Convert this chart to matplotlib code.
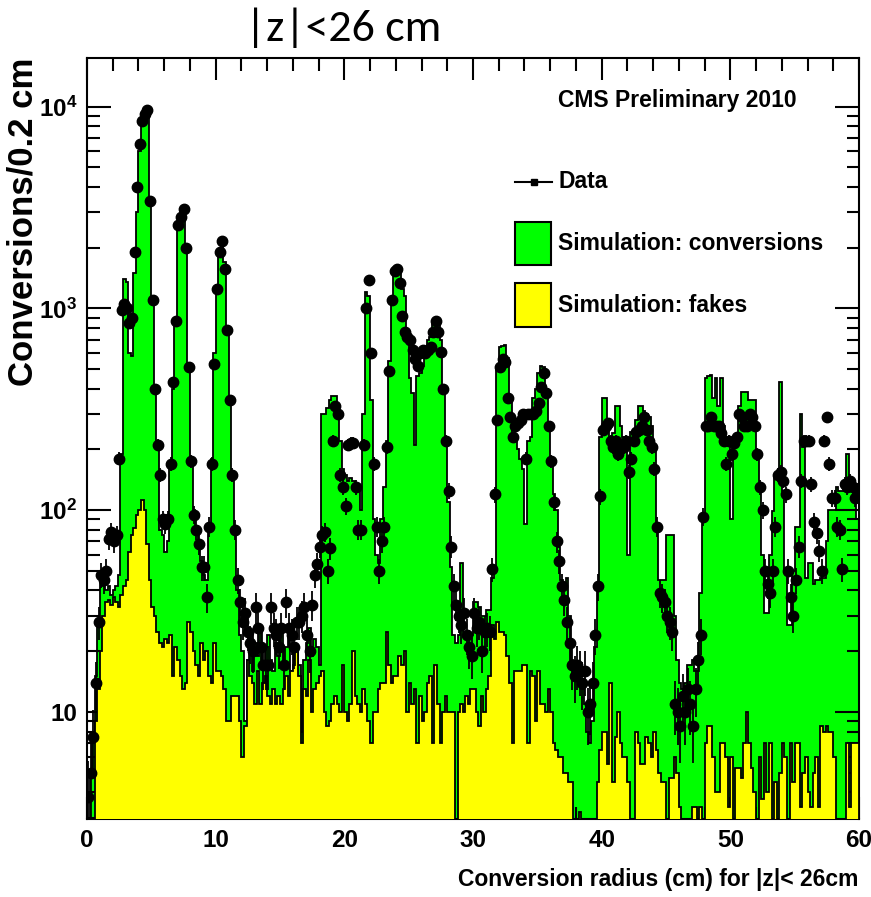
import numpy as np
import matplotlib
matplotlib.use("Agg")
import matplotlib.pyplot as plt
from matplotlib.ticker import MultipleLocator, LogLocator, FuncFormatter, NullFormatter
from matplotlib.patches import Rectangle
from matplotlib.lines import Line2D

# histogram contents, 0.2 cm bins from 0 to 60 cm
bin_width = 0.2

# green outline: simulated conversions stacked on fakes
sim_total = [
    0, 5, 8, 15, 28, 45, 42, 40, 42, 38,
    40, 42, 48, 190, 1400, 1350, 600, 580, 1500, 3000,
    6000, 8500, 9500, 9800, 3500, 1100, 380, 200, 80, 75,
    62, 70, 170, 400, 900, 2600, 3000, 3200, 2000, 500,
    180, 100, 80, 65, 56, 48, 45, 85, 180, 600,
    1300, 1900, 2200, 1700, 800, 350, 150, 80, 40, 24,
    20, 9, 18, 24, 16, 22, 19, 25, 17, 21,
    24, 18, 16, 22, 19, 26, 17, 21, 24, 16,
    22, 20, 17, 8, 18, 22, 26, 19, 23, 21,
    17, 300, 300, 320, 350, 370, 370, 330, 220, 160,
    150, 140, 145, 140, 135, 130, 100, 300, 1200, 1150,
    350, 90, 60, 55, 90, 130, 220, 550, 1100, 1450,
    1600, 1550, 1250, 1150, 700, 450, 380, 210, 460, 480,
    520, 580, 700, 720, 850, 880, 860, 700, 400, 230,
    110, 52, 24, 22, 24, 55, 25, 23, 25, 24,
    35, 35, 33, 30, 30, 32, 32, 46, 52, 500,
    640, 650, 660, 570, 360, 240, 230, 200, 180, 160,
    85, 220, 230, 360, 400, 480, 520, 510, 400, 270,
    180, 120, 100, 66, 45, 42, 46, 30, 18, 16,
    15, 14, 13, 11, 8, 7, 9, 21, 40, 230,
    360, 360, 250, 230, 240, 330, 330, 260, 230, 220,
    60, 245, 250, 280, 330, 330, 310, 300, 290, 260,
    205, 83, 45, 45, 45, 75, 75, 75, 30, 18,
    14, 13, 14, 17, 17, 18, 16, 16, 39, 93,
    450, 460, 470, 360, 450, 330, 450, 260, 220, 210,
    90, 230, 230, 330, 385, 385, 385, 350, 350, 350,
    190, 130, 60, 31, 31, 60, 99, 145, 145, 430,
    125, 50, 27, 27, 50, 83, 83, 300, 205, 46,
    55, 55, 43, 45, 45, 46, 46, 70, 100, 100,
    100, 130, 125, 125, 125, 190, 140, 140, 130, 90,
]

# yellow: simulated fakes
sim_fakes = [
    0, 0, 0, 9, 13, 20, 30, 35, 36, 34,
    37, 35, 33, 38, 42, 45, 62, 75, 82, 95,
    100, 112, 100, 68, 45, 33, 30, 25, 22, 21,
    23, 22, 24, 15, 21, 18, 15, 13, 14, 28,
    25, 20, 17, 15, 22, 18, 20, 15, 14, 22,
    16, 16, 15, 13, 9, 9, 12, 12, 12, 9,
    6, 8.5, 18, 15, 14, 11, 16, 11, 14, 15,
    12, 11, 13, 11, 12, 11, 13, 15, 12, 16,
    17, 20, 15, 7, 13, 12, 18, 10, 13, 14,
    15, 16, 10, 8.5, 9, 11, 12, 11, 10, 17,
    10, 9, 11, 20, 12, 11, 10, 13, 11, 9,
    7, 10, 10, 13, 14, 14, 25, 17, 14, 15,
    15, 19, 17, 20, 10, 14, 11, 13, 7, 12,
    9, 10, 14, 15, 7, 17, 11, 7, 10, 12,
    10, 10, 10, 0, 10, 11, 10, 12, 11, 13,
    13, 10, 8.5, 12, 10, 13, 15, 27, 23, 28,
    25, 25, 24, 19, 14, 7, 16, 16, 16, 17,
    17, 7, 16, 15, 9, 16, 11, 11, 10, 13,
    10, 7, 6.5, 6, 6, 5, 5, 4.5, 4.5, 0,
    0, 3.2, 0, 0, 0, 0, 0, 0, 4.5, 6.5,
    8, 8, 5.5, 14, 4.5, 7.5, 10, 7, 6, 6,
    4.5, 0, 0, 8, 7, 5.5, 5.5, 7.5, 7, 6,
    8, 6.5, 5, 4.5, 4.5, 0, 4.7, 4.7, 6, 5,
    3.4, 0, 0, 0, 0, 3.4, 3.4, 0, 3.4, 0,
    7, 8.5, 8.5, 6, 4, 4, 7, 7, 6, 3.4,
    6, 0, 5.3, 5.3, 4.7, 7, 10, 7, 5.3, 4,
    0, 6, 3.7, 7, 4, 7, 0, 4.5, 0, 5,
    7, 6, 0, 7, 4.5, 7, 7, 3.4, 5, 6,
    4, 3.4, 5, 6, 3.4, 8.5, 8, 8.5, 8, 8,
    6, 0, 0, 0, 0, 7, 3.4, 7, 7, 7,
]

# data points
data_counts = [
    3.8, 5, 7.5, 14, 28, 48, 45, 50, 72, 78,
    70, 75, 180, 980, 1050, 1000, 850, 900, 1900, 4000,
    6500, 8500, 9200, 9600, 3400, 1100, 400, 210, 150, 90,
    85, 90, 170, 430, 870, 2600, 2850, 3100, 2000, 510,
    175, 95, 80, 68, 52, 52, 37, 83, 170, 530,
    1250, 1900, 2150, 1560, 780, 350, 150, 80, 45, 35,
    28, 31, 25, 22, 20, 33, 26, 21, 17, 17,
    17, 33, 26, 24, 21, 26, 17, 35, 26, 24,
    21, 28, 28, 30, 33, 24, 20, 34, 48, 54,
    66, 75, 78, 50, 65, 220, 330, 300, 150, 130,
    105, 210, 215, 215, 130, 80, 80, 210, 1000, 1380,
    600, 170, 83, 50, 70, 83, 205, 490, 1100, 1530,
    1560, 1330, 920, 760, 720, 700, 620, 560, 520, 600,
    620, 600, 620, 640, 760, 870, 760, 610, 400, 220,
    125, 66, 42, 34, 30, 27, 31, 24, 21, 19,
    31, 26, 28, 20, 25, 26, 25, 51, 120, 280,
    510, 560, 540, 360, 290, 230, 260, 270, 280, 300,
    180, 300, 300, 300, 310, 340, 410, 480, 380, 260,
    175, 110, 70, 56, 42, 36, 28, 22, 17, 15,
    17, 16, 14, 16, 10, 11, 14, 24, 42, 117,
    250, 260, 270, 220, 205, 220, 190, 205, 205, 220,
    155, 180, 220, 245, 250, 260, 290, 250, 220, 205,
    160, 83, 39, 37, 35, 30, 28, 25, 11, 10,
    8.5, 12, 10, 13, 11, 8.5, 13, 18, 24, 93,
    260, 260, 290, 260, 260, 260, 240, 220, 170, 220,
    190, 215, 230, 300, 290, 260, 260, 300, 290, 260,
    190, 130, 100, 50, 43, 39, 50, 83, 150, 155,
    140, 120, 50, 37, 30, 45, 66, 140, 220, 220,
    220, 135, 87, 77, 63, 50, 220, 290, 170, 115,
    115, 83, 80, 51, 135, 130, 140, 130, 115, 125,
]

legend_labels = ["Data", "Simulation: conversions", "Simulation: fakes"]

GREEN = "#00ff00"
YELLOW = "#ffff00"

plt.rcParams["font.family"] = ["Liberation Sans", "DejaVu Sans"]
plt.rcParams["font.weight"] = "bold"
plt.rcParams["mathtext.fontset"] = "custom"
plt.rcParams["mathtext.rm"] = "Liberation Sans:bold"
plt.rcParams["mathtext.bf"] = "Liberation Sans:bold"

W, H = 871, 897
fig = plt.figure(figsize=(W / 100, H / 100), dpi=100)

def fx(px):
    return px / W

def fy(py):
    return 1 - py / H

ax = fig.add_axes([fx(87), fy(819), fx(859) - fx(87), fy(58) - fy(819)])

total = np.array(sim_total, dtype=float)
fakes = np.array(sim_fakes, dtype=float)
data = np.array(data_counts, dtype=float)
edges = np.arange(len(total) + 1) * bin_width
centers = edges[:-1] + bin_width / 2

floor = 1e-2
tot_draw = np.where(total > 0, total, floor)
fak_draw = np.where(fakes > 0, fakes, floor)

ax.stairs(tot_draw, edges, baseline=floor, fill=True, color=GREEN, zorder=1)
ax.stairs(tot_draw, edges, baseline=floor, color="black", lw=1.3, zorder=2)
ax.stairs(fak_draw, edges, baseline=floor, fill=True, color=YELLOW, zorder=3)
ax.stairs(fak_draw, edges, baseline=floor, color="black", lw=1.3, zorder=4)

ax.errorbar(centers, data, yerr=np.sqrt(data), fmt="o", color="black",
            ms=7.5, elinewidth=1.3, capsize=0, zorder=5)

ax.set_yscale("log")
ax.set_xlim(0, 60)
ax.set_ylim(2.95, 17400)

ax.xaxis.set_major_locator(MultipleLocator(10))
ax.xaxis.set_minor_locator(MultipleLocator(2))
ax.yaxis.set_major_locator(LogLocator(base=10))
ax.yaxis.set_minor_locator(LogLocator(base=10, subs=np.arange(2, 10)))
ax.yaxis.set_minor_formatter(NullFormatter())

def ylab(v, pos):
    e = int(round(np.log10(v)))
    if e == 1:
        return "10"
    return r"$\mathbf{10^{%d}}$" % e

ax.yaxis.set_major_formatter(FuncFormatter(ylab))

ax.tick_params(which="both", direction="in", top=True, right=True, width=1.5)
ax.xaxis.set_tick_params(which="major", length=16, pad=7, labelsize=17.5)
ax.xaxis.set_tick_params(which="minor", length=9)
ax.yaxis.set_tick_params(which="major", length=17, pad=7, labelsize=17.5)
ax.yaxis.set_tick_params(which="minor", length=9)
for s in ax.spines.values():
    s.set_linewidth(1.5)

# axis titles (ROOT style: aligned to the axis end)
fig.text(fx(858), fy(879), "Conversion radius (cm) for |z|< 26cm", ha="right",
         va="center", fontsize=16.5)
fig.text(fx(23), fy(58), "Conversions/0.2 cm", rotation=90, ha="center", va="top",
         fontsize=25)

# title
fig.text(fx(343), fy(28), "|z|<26 cm", ha="center", va="center", fontsize=33,
         weight="normal", family=["Carlito", "Lato", "DejaVu Sans"])

# CMS label and legend
fig.text(fx(558), fy(101), "CMS Preliminary 2010", ha="left", va="center",
         fontsize=16.5)

fig.add_artist(Line2D([fx(515), fx(552)], [fy(182), fy(182)], color="black", lw=1.5,
                      transform=fig.transFigure))
fig.add_artist(Line2D([fx(533.5)], [fy(182)], color="black", marker="s", ms=5,
                      transform=fig.transFigure))
fig.add_artist(Rectangle((fx(515), fy(265)), fx(551) - fx(515), fy(222) - fy(265),
                         facecolor=GREEN, edgecolor="black", lw=1.5,
                         transform=fig.transFigure))
fig.add_artist(Rectangle((fx(515), fy(327)), fx(551) - fx(515), fy(283) - fy(327),
                         facecolor=YELLOW, edgecolor="black", lw=1.5,
                         transform=fig.transFigure))
for lab, py in zip(legend_labels, [182, 243, 305]):
    fig.text(fx(558), fy(py), lab, ha="left", va="center", fontsize=16.5)

fig.savefig("out.png", dpi=100)
